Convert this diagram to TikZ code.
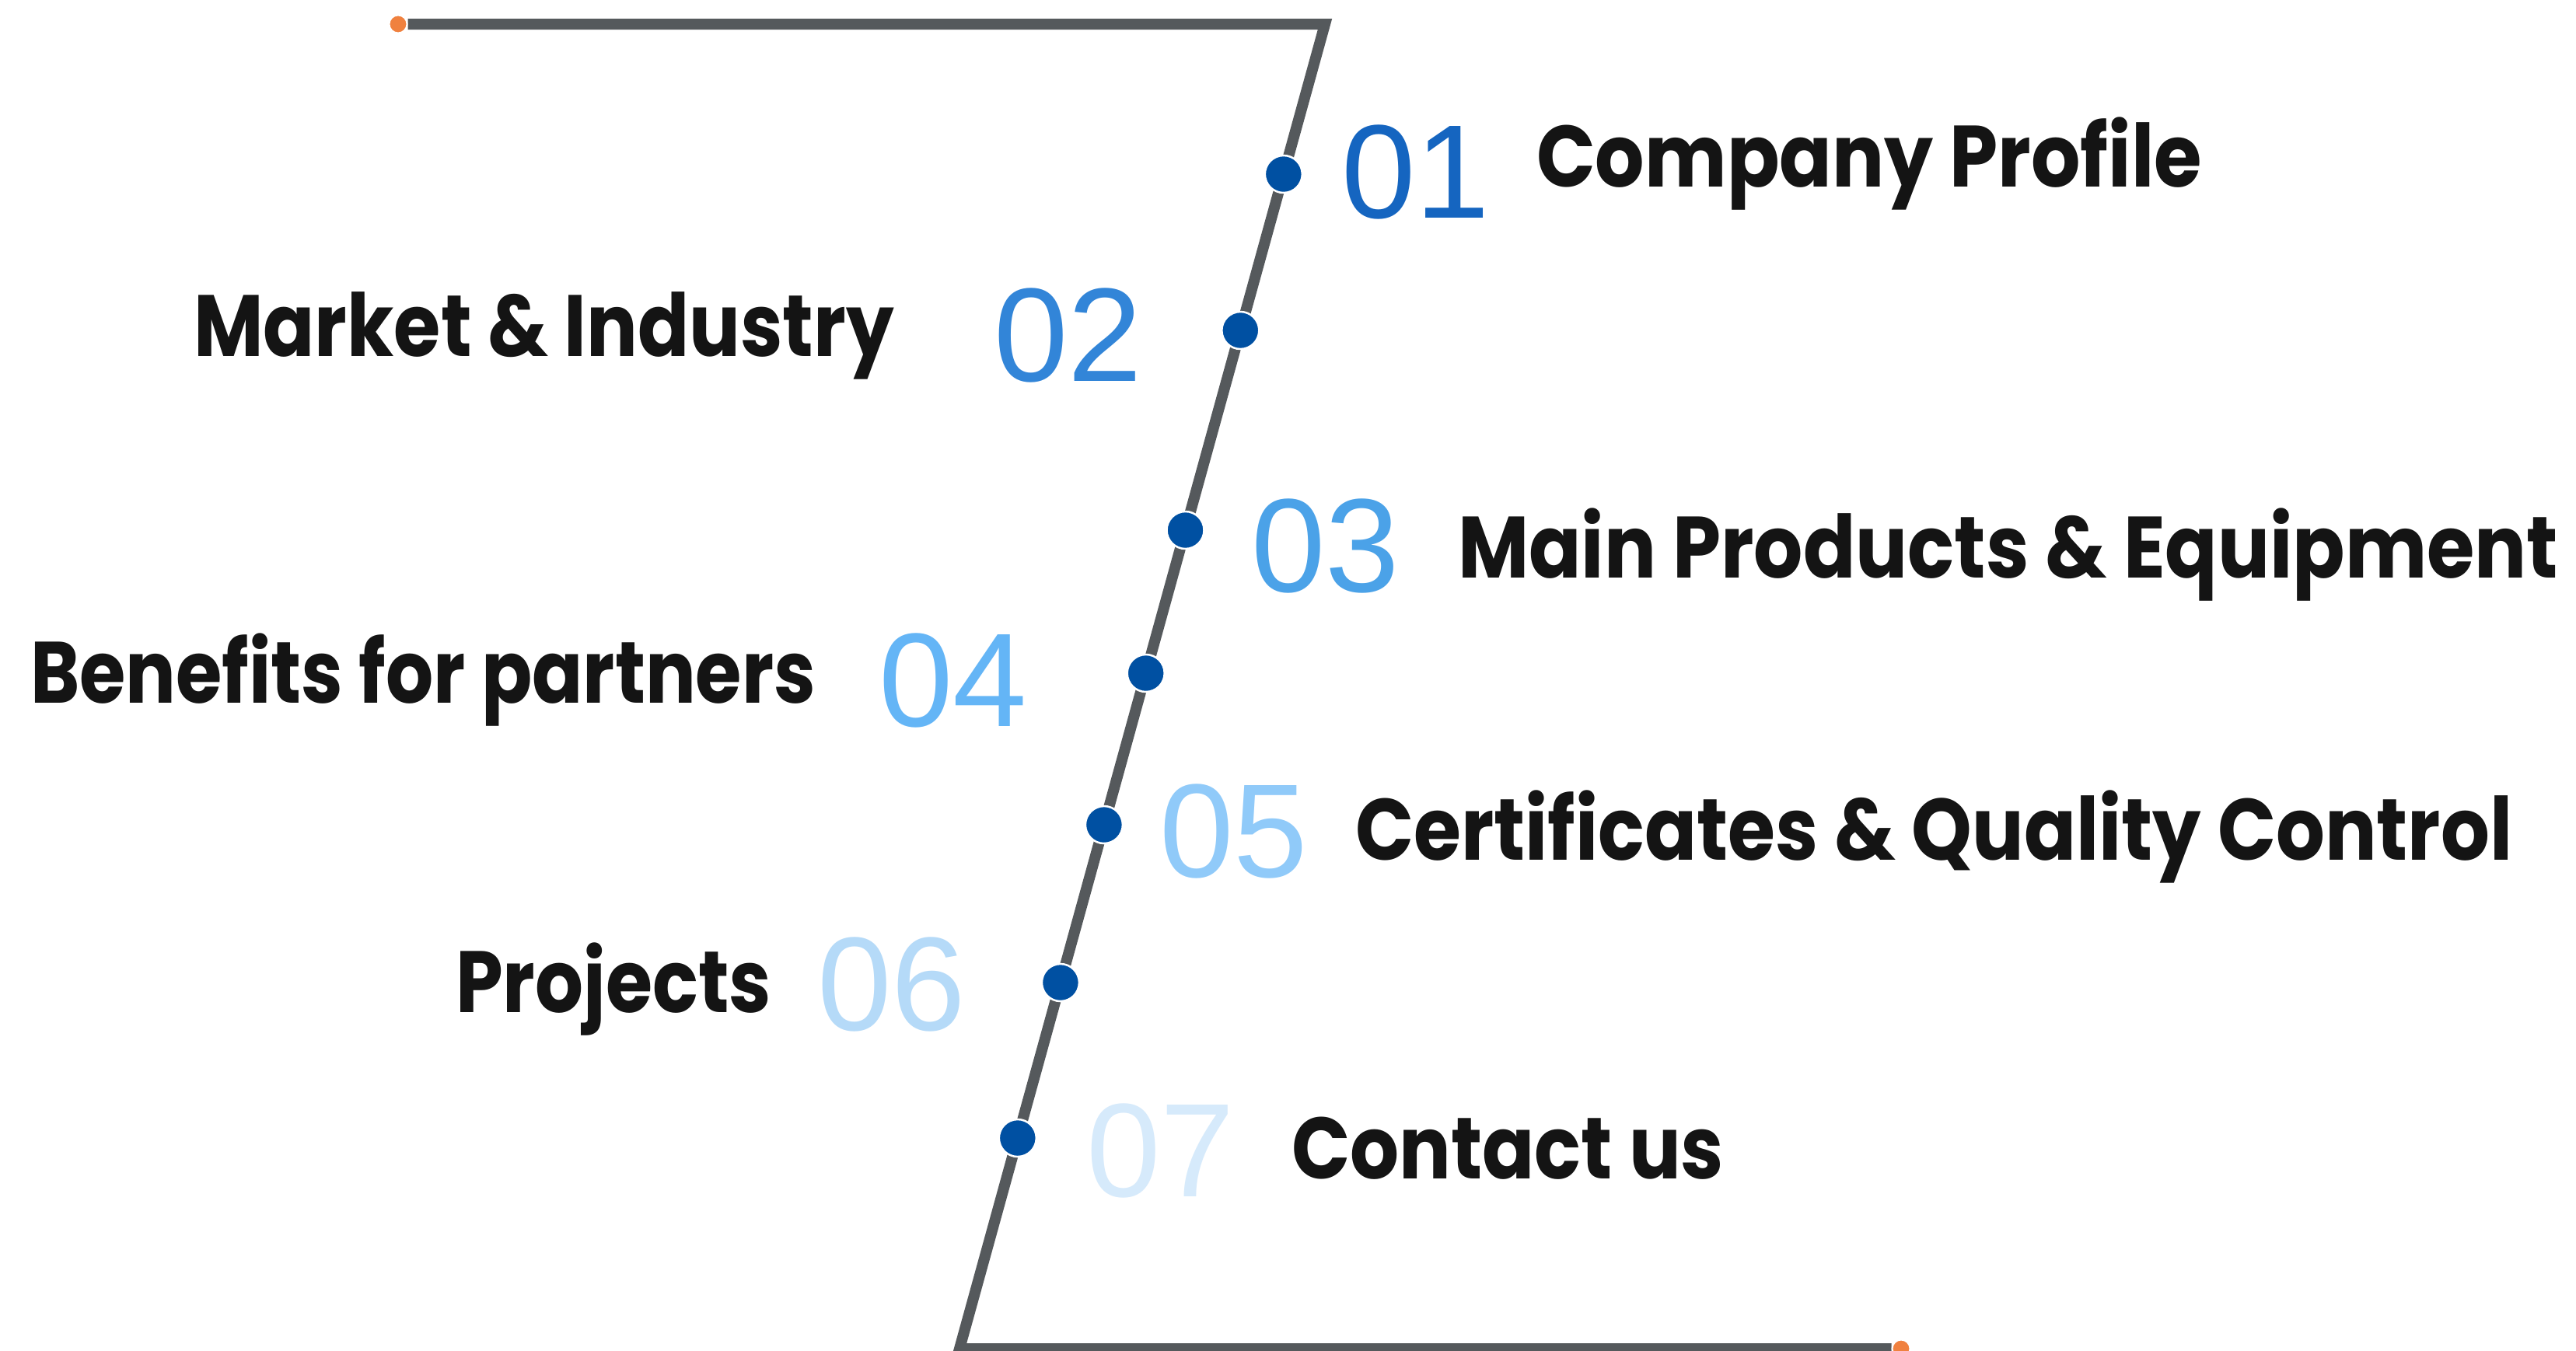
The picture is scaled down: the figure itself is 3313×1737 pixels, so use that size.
\documentclass[tikz,border=0pt]{standalone}
\usepackage{fontspec}
\setmainfont{Liberation Sans}
\newfontfamily\labfont{Poppins}
\usepackage{graphicx}
\newdimen\pxu \pxu=0.2pt
\definecolor{railgray}{HTML}{55595C}
\definecolor{dotblue}{HTML}{0050A2}
\definecolor{dotorange}{HTML}{F0813F}
\definecolor{labblack}{HTML}{141414}
\definecolor{nA}{HTML}{1565C0}
\definecolor{nB}{HTML}{3285D8}
\definecolor{nC}{HTML}{4BA2E8}
\definecolor{nD}{HTML}{64B5F6}
\definecolor{nE}{HTML}{90CAF9}
\definecolor{nF}{HTML}{B5DAF8}
\definecolor{nG}{HTML}{D6EAFB}
\newcommand\lab[2]{\resizebox{#1\pxu}{\height}{\labfont\bfseries\fontsize{22.4pt}{24pt}\selectfont #2}}
\tikzset{
  rail/.style={draw=railgray, line width=2.8pt},
  bdot/.style={circle, fill=dotblue, draw=white, line width=0.5pt, minimum size=9.6pt, inner sep=0pt},
  odot/.style={circle, fill=dotorange, draw=white, line width=0.4pt, minimum size=4.6pt, inner sep=0pt},
  num/.style={anchor=base west, inner sep=0pt, font=\fontsize{34.3pt}{36pt}\selectfont},
  labnode/.style={anchor=base west, inner sep=0pt, text=labblack},
}
\begin{document}
\begin{tikzpicture}[x=0.2pt, y=-0.2pt]
\fill[white] (0,0) rectangle (3313,1737);
\useasboundingbox (0,0) rectangle (3313,1737);
% rail
\coordinate (c1) at (1704,31);
\coordinate (c2) at (1234,1735);
\node[odot] (o1) at (512,31) {};
\node[odot] (o2) at (2445,1735) {};
\draw[rail] (o1.east) -- (c1) -- (c2) -- (o2.west);
\node[odot] at (512,31) {};
\node[odot] at (2445,1735) {};
% dots
\node[bdot] (d1) at (1650.8,224) {};
\node[bdot] (d2) at (1595.3,425) {};
\node[bdot] (d3) at (1524.5,682) {};
\node[bdot] (d4) at (1473.7,866) {};
\node[bdot] (d5) at (1419.9,1061) {};
\node[bdot] (d6) at (1363.9,1264) {};
\node[bdot] (d7) at (1308.8,1464) {};
% numbers
\node[num, text=nA] (n1) at (1724,280) {01};
\node[num, text=nB] (n2) at (1277,490) {02};
\node[num, text=nC] (n3) at (1608,761) {03};
\node[num, text=nD] (n4) at (1129,934) {04};
\node[num, text=nE] (n5) at (1490,1128) {05};
\node[num, text=nF] (n6) at (1050,1325) {06};
\node[num, text=nG] (n7) at (1396,1539) {07};
% labels
\node[labnode] (t1) at (1975,240) {\lab{856}{Company Profile}};
\node[labnode] (t2) at (248,458) {\lab{901}{Market \& Industry}};
\node[labnode] (t3) at (1874,743) {\lab{1415}{Main Products \& Equipment}};
\node[labnode] (t4) at (38,904) {\lab{1010}{Benefits for partners}};
\node[labnode] (t5) at (1742,1106) {\lab{1488}{Certificates \& Quality Control}};
\node[labnode] (t6) at (585,1302) {\lab{406}{Projects}};
\node[labnode] (t7) at (1660,1516) {\lab{556}{Contact us}};
\end{tikzpicture}
\end{document}
